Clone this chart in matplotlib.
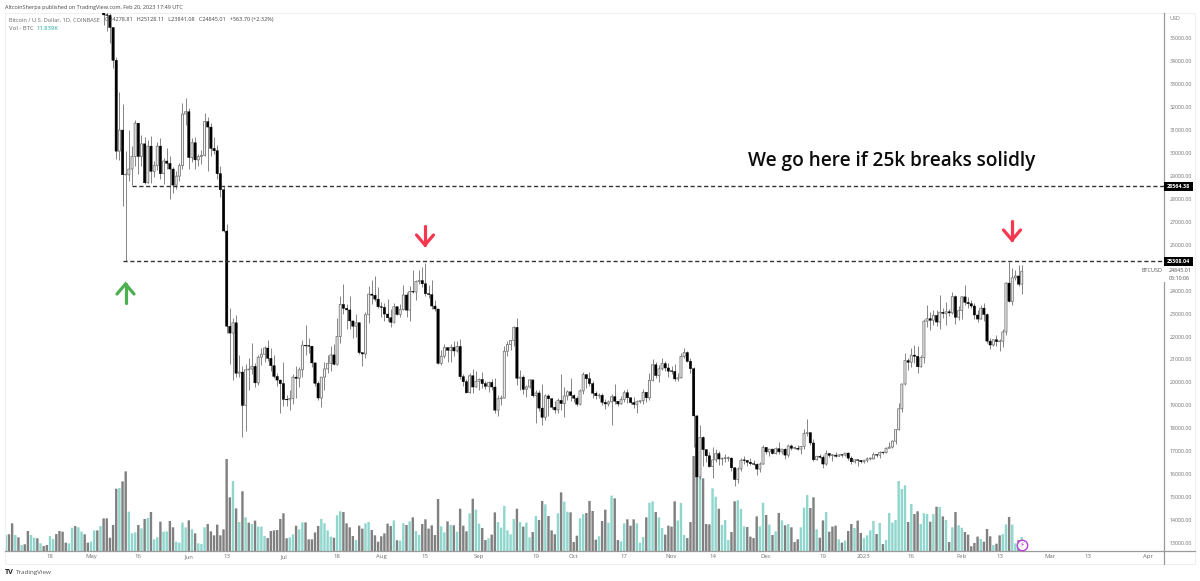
import matplotlib
matplotlib.use('Agg')
import matplotlib.pyplot as plt
import matplotlib.dates as mdates
from matplotlib.lines import Line2D
from matplotlib.patches import Rectangle
import pandas as pd

# daily candles, 2022-05-05 to 2023-02-20, one row per month
first_open = 36500
closes = [
    36020, 36000, 35470, 34040, 30080, 31000, 29050, 29050, 29300, 29850, 31300, 29850, 30400, 28700, 30300, 29200, 29450, 30300, 29100, 29650, 29550, 29300, 28600, 28990, 29450, 31700, 31800,
    29800, 30450, 29700, 29850, 29900, 31370, 31130, 30200, 30100, 29100, 28400, 26600, 22450, 22150, 22600, 20400, 20450, 19000, 20550, 20580, 20700, 19980, 21100, 21230, 21500, 21050, 20730, 20260, 20100, 19950,
    19260, 19240, 19300, 20230, 20180, 20550, 21620, 21590, 21580, 20850, 19960, 19320, 20230, 20590, 20830, 21200, 20790, 22000, 23400, 23230, 23160, 22680, 22450, 22600, 21300, 21240, 22950, 23850, 23800, 23630, 23300,
    23270, 22980, 22820, 22620, 23300, 22960, 23175, 23810, 23150, 23960, 23940, 24400, 24440, 24300, 23870, 23830, 23330, 23200, 20830, 21140, 21520, 21400, 21530, 21370, 21570, 20250, 20030, 19550, 20290, 19800, 20050,
    20130, 19950, 19830, 20000, 19800, 18790, 19290, 19320, 21360, 21650, 21830, 22400, 20180, 20230, 19700, 19800, 20110, 19420, 19540, 18880, 18480, 19410, 19290, 18920, 18800, 19220, 19080, 19410, 19590, 19430,
    19310, 19050, 19630, 20340, 20160, 19950, 19530, 19420, 19440, 19130, 19060, 19150, 19380, 19180, 19060, 19260, 19550, 19330, 19120, 19040, 19160, 19200, 19570, 19330, 20090, 20770, 20300, 20590, 20820, 20630, 20490,
    20480, 20150, 20200, 21130, 21300, 20920, 20600, 18540, 15880, 17600, 17070, 16800, 16330, 16620, 16900, 16660, 16690, 16690, 16700, 16280, 15770, 16230, 16610, 16600, 16520, 16460, 16430, 16220, 16440, 17170,
    16970, 17090, 16900, 17110, 16970, 17090, 16830, 17230, 17130, 17130, 17090, 17210, 17780, 17810, 17360, 16630, 16780, 16740, 16440, 16900, 16820, 16830, 16780, 16840, 16830, 16920, 16700, 16540, 16630, 16600, 16540,
    16610, 16670, 16670, 16850, 16830, 16950, 16940, 17130, 17180, 17440, 17940, 18850, 19930, 20950, 20880, 21190, 21140, 20680, 21080, 22670, 22780, 22710, 22920, 22630, 23060, 23010, 23080, 23030, 23740, 22840, 23130,
    23730, 23490, 23430, 23330, 22940, 22760, 23240, 22960, 21800, 21630, 21860, 21780, 21790, 22200, 24330, 23530, 24560, 24640, 24280, 24845,
]
highs = [
    37600, 36600, 36100, 35500, 34200, 32650, 32150, 30100, 31000, 30300, 31450, 31300, 30800, 30700, 30550, 30750, 29650, 30480, 30650, 29800, 30200, 29850, 29400, 29200, 29550, 32200, 32400,
    31950, 30650, 30680, 29950, 30150, 31750, 31550, 31300, 30700, 30350, 29450, 28550, 26900, 23250, 22800, 22950, 21200, 20700, 20800, 21050, 21700, 20850, 21200, 21500, 21600, 21850, 21500, 21200, 20400, 20150,
    20900, 19450, 19650, 20350, 20700, 20650, 21830, 22500, 21950, 21600, 20880, 20050, 20250, 20880, 21200, 21600, 21680, 22800, 23780, 24280, 23400, 23750, 22680, 22990, 22650, 21300, 23050, 24200, 24450, 24650, 24150,
    23500, 23450, 23640, 23200, 23450, 23350, 23400, 24250, 23920, 24220, 24900, 24450, 24890, 25050, 25200, 24250, 24450, 23600, 23200, 21400, 21680, 21520, 21680, 21800, 21800, 21880, 20350, 20150, 20400, 20580, 20480,
    20200, 20440, 20050, 20050, 20150, 20180, 19450, 19470, 21600, 21800, 21850, 22480, 22800, 20550, 20330, 19900, 20170, 20120, 19690, 19650, 19950, 19500, 19500, 19300, 19180, 19300, 20380, 19780, 19650, 20180,
    19480, 19390, 19720, 20470, 20360, 20450, 20050, 19620, 19560, 19530, 19260, 19220, 19500, 19950, 19210, 19410, 19680, 19700, 19350, 19350, 19250, 19250, 19700, 19600, 20400, 21000, 20870, 20740, 21080, 20930, 20840,
    20700, 20800, 20390, 21300, 21480, 21360, 21050, 20670, 18600, 18150, 17650, 17100, 16950, 17200, 17100, 17000, 16750, 16880, 16800, 16750, 16300, 16300, 16700, 16790, 16600, 16690, 16600, 16480, 16520, 17250,
    17100, 17100, 17150, 17200, 17420, 17110, 17140, 17300, 17300, 17220, 17270, 17240, 17950, 18390, 17850, 17530, 16800, 16870, 16830, 17060, 16920, 16860, 16950, 16860, 16860, 16930, 16960, 16780, 16650, 16620, 16630,
    16630, 16760, 16770, 16980, 16880, 16990, 16960, 17170, 17390, 17490, 17990, 19100, 19950, 21280, 21050, 21480, 21650, 21570, 21200, 22750, 23370, 23070, 23160, 23150, 23800, 23250, 23490, 23180, 23950, 23790, 23310,
    23780, 24250, 23710, 23590, 23440, 23160, 23370, 23450, 23010, 21940, 21900, 22060, 21880, 22320, 24360, 25250, 25000, 24880, 25130, 25128,
]
lows = [
    35600, 35300, 34800, 33700, 29750, 29700, 27700, 25308, 28800, 28600, 29450, 29100, 29450, 28650, 28700, 28700, 28950, 29250, 28850, 28650, 29300, 28000, 28250, 28450, 28800, 29300, 31200,
    29300, 29600, 29300, 29450, 29500, 29850, 29200, 29850, 29950, 28850, 28100, 26550, 22150, 20800, 20100, 20250, 20250, 17620, 17900, 19650, 20350, 19800, 19900, 20750, 20900, 20950, 20500, 20180, 19850, 18650,
    18970, 18950, 18800, 19050, 19300, 19800, 20250, 21200, 21300, 20650, 19850, 19250, 18920, 19650, 20400, 20480, 20770, 20770, 21700, 23000, 22350, 22350, 21950, 22000, 21250, 20720, 21050, 22600, 23400, 23550, 23250,
    22850, 22660, 22680, 22430, 22590, 22920, 22850, 23150, 22870, 22660, 23900, 23600, 24300, 24150, 23780, 23680, 23180, 23100, 20800, 20770, 21060, 20900, 20900, 21150, 21320, 20130, 19850, 19520, 19550, 19550, 19800,
    19650, 19750, 19700, 19600, 19650, 18650, 18550, 19030, 19300, 21150, 21400, 21600, 19900, 19650, 19500, 19350, 19750, 19350, 18250, 18750, 18150, 18350, 18550, 18830, 18650, 18680, 18800, 18500, 19250, 19200,
    19160, 18950, 19000, 19500, 19750, 19860, 19330, 19270, 19330, 19020, 18860, 18970, 18150, 19070, 18980, 19060, 19150, 19100, 19050, 18900, 18650, 19110, 19080, 19150, 19250, 20050, 20200, 20000, 20550, 20500, 20250,
    20350, 20050, 20050, 20180, 21080, 20900, 20400, 17200, 15600, 15800, 16350, 16550, 16300, 15820, 16530, 16400, 16400, 16530, 16560, 16150, 15480, 15620, 16160, 16450, 16350, 16400, 16400, 15980, 16100, 16430,
    16880, 16800, 16860, 16890, 16880, 16900, 16680, 16730, 17070, 17090, 17060, 16870, 17080, 17660, 17280, 16570, 16600, 16700, 16270, 16400, 16750, 16580, 16750, 16790, 16740, 16790, 16610, 16460, 16500, 16340, 16480,
    16490, 16550, 16600, 16660, 16770, 16720, 16900, 16910, 17120, 17150, 17320, 17930, 18700, 19890, 20550, 20650, 20850, 20400, 20650, 20850, 22420, 22300, 22520, 22470, 22310, 22820, 22520, 22880, 23000, 22550, 22720,
    22770, 23370, 23230, 23260, 22770, 22630, 22750, 22680, 21700, 21470, 21600, 21600, 21350, 21540, 22050, 23500, 23360, 24450, 24200, 23841,
]

# volume in thousands of BTC, 2022-04-04 to 2023-02-20; U = rising day, D = falling day
volumes = [
    13.6, 14.2, 23.5, 13.6, 11.6, 5.1, 5.7, 17.0, 13.6, 11.3, 10.8, 6.5, 4.2, 5.1, 12.7, 10.2, 14.4, 17.0, 16.4, 7.1, 6.5, 19.8, 21.2, 20.1, 16.4,
    14.2, 7.1, 7.9, 17.5, 17.5, 21.2, 27.7, 27.7, 11.3, 22.1, 52.9, 53.5, 59.1, 67.6, 33.4, 15.0, 15.8, 22.1, 19.2, 27.2, 28.0, 33.1, 9.9, 11.6, 24.9,
    16.4, 16.7, 25.5, 20.1, 7.9, 7.1, 24.1, 20.1, 26.0, 18.4, 15.0, 6.5, 5.9, 20.1, 22.9, 16.7, 13.3, 22.4, 13.3, 18.4, 78.1, 45.6, 59.4, 36.2, 24.6,
    50.7, 28.6, 24.1, 22.9, 25.8, 20.7, 20.7, 12.7, 11.0, 17.0, 17.5, 17.8, 27.2, 32.0, 10.8, 11.6, 14.2, 21.5, 18.4, 24.3, 24.3, 9.9, 9.9, 15.8, 21.2,
    27.2, 23.5, 17.5, 12.2, 11.3, 30.3, 33.7, 33.1, 23.5, 20.1, 12.7, 9.3, 21.5, 19.0, 23.5, 24.6, 17.8, 13.3, 7.9, 12.5, 15.0, 23.2, 21.2, 26.0, 9.1,
    8.8, 23.5, 22.1, 25.2, 28.6, 17.0, 13.6, 22.9, 26.9, 19.0, 21.8, 13.6, 44.1, 20.9, 15.8, 25.2, 22.1, 21.8, 16.4, 35.9, 21.5, 16.7, 32.0, 44.4, 35.1,
    23.2, 19.5, 9.3, 10.8, 13.9, 32.8, 24.6, 19.8, 38.2, 17.5, 14.2, 27.2, 35.9, 24.6, 20.7, 24.1, 11.6, 16.1, 29.7, 26.3, 42.5, 39.6, 29.7, 17.5, 14.2,
    32.0, 49.8, 41.9, 33.4, 32.8, 7.6, 13.0, 27.7, 31.4, 32.3, 42.5, 34.0, 9.6, 12.5, 25.5, 35.1, 24.1, 47.0, 44.7, 9.3, 8.2, 23.5, 26.9, 21.5, 26.9,
    23.5, 7.1, 11.9, 28.6, 41.0, 42.2, 33.1, 28.6, 19.5, 13.9, 21.5, 20.7, 42.2, 26.0, 40.8, 13.6, 11.0, 24.6, 80.7, 91.4, 63.1, 61.7, 22.9, 22.6, 53.2,
    46.1, 35.9, 22.1, 26.3, 9.3, 16.1, 42.2, 43.0, 35.7, 20.9, 20.4, 12.2, 11.0, 29.4, 20.9, 41.0, 30.6, 22.4, 13.6, 16.7, 32.3, 26.0, 21.8, 22.9, 20.1,
    7.6, 9.9, 20.1, 36.8, 47.5, 36.5, 45.6, 18.4, 11.3, 26.0, 33.1, 16.4, 20.7, 21.5, 9.9, 7.1, 8.8, 17.0, 22.9, 19.5, 25.8, 15.3, 10.8, 13.3, 17.5,
    25.5, 14.4, 23.8, 5.9, 9.3, 32.3, 24.1, 26.3, 59.4, 52.6, 55.8, 24.6, 39.9, 31.4, 33.7, 22.9, 32.0, 31.4, 24.9, 31.4, 37.6, 37.4, 29.4, 26.3, 7.6,
    20.1, 33.1, 21.8, 19.8, 16.1, 13.9, 4.0, 6.8, 12.2, 10.2, 7.9, 18.7, 12.5, 5.1, 6.2, 13.3, 14.4, 22.6, 28.9, 22.4, 6.5, 9.3, 11.8,
]
vol_dirs = (
    "UDDUDUDDUUDUDDUUDDDDUUDUU"
    "DDUUDUDDDDDUDDUUUDUDUDUUD"
    "UUDDUUUUDUDUUUDDDDDDDDUDU"
    "DUDUDUUUDDDDDDDUUDUUDDDDD"
    "UUUUDUUDDDDUDDUUDDDDDDDUD"
    "UUDUDUUDDDDDDUUDUDUDDDUDU"
    "UDDUDDUUUUUUDUDUUDUDDUDDD"
    "UDUUDDDUUDDDDUDDUUDDUUDDD"
    "UUUDUUDUUDDDDUUUDDDDUDDDU"
    "UDUUUDDUUUDDDDUUDUDUDUDUD"
    "DDUUUDDUDDUDDDUDUDDUDDUUU"
    "UDUDUUUUUUUDUDDUUUDUDUDUD"
    "UDUUDDDDDUDDDUDDUUDUUDU"
)

level_upper = 28564.38
level_lower = 25308.04
last_price = 24845.01

price_ticks = [p for p in range(13000, 36000, 1000) if p != 25000]
time_ticks = ['2022-04-18', '2022-05-01', '2022-05-16', '2022-06-01', '2022-06-13', '2022-07-01',
              '2022-07-18', '2022-08-01', '2022-08-15', '2022-09-01', '2022-09-19', '2022-10-01',
              '2022-10-17', '2022-11-01', '2022-11-14', '2022-12-01', '2022-12-19', '2023-01-01',
              '2023-01-16', '2023-02-01', '2023-02-13', '2023-03-01', '2023-03-13', '2023-04-01']
time_labels = ['18', 'May', '16', 'Jun', '13', 'Jul', '18', 'Aug', '15', 'Sep', '19', 'Oct',
               '17', 'Nov', '14', 'Dec', '19', '2023', '16', 'Feb', '13', 'Mar', '13', 'Apr']

W, H = 1200, 581
TEAL = '#8fd6cd'
GREY = '#808080'
FONT = ['Open Sans', 'DejaVu Sans']


def px_text(x, y, s, **kw):
    return fig.text(x / W, 1 - y / H, s, family=FONT, va='center', **kw)


def px_arrow(x, y_tip, y_tail, color, up):
    # arrow marks drawn on the figure, the way they sit on top of the chart
    head = 10 if up else -10
    lines = [([x, x], [y_tip, y_tail]), ([x - 8.5, x, x + 8.5], [y_tip + head, y_tip, y_tip + head])]
    for lx, ly in lines:
        fig.add_artist(Line2D([v / W for v in lx], [1 - v / H for v in ly], color=color,
                              lw=2.3, solid_capstyle='round', solid_joinstyle='miter',
                              transform=fig.transFigure))


fig = plt.figure(figsize=(W / 100, H / 100), dpi=100, facecolor='white')

ax_vol = fig.add_axes([5 / W, (H - 551) / H, 1159 / W, 538 / H])
ax = fig.add_axes([5 / W, (H - 551) / H, 1159 / W, 538 / H], sharex=ax_vol)
ax.set_zorder(ax_vol.get_zorder() + 1)
ax.patch.set_visible(False)

candle_dates = pd.date_range(end='2023-02-20', periods=len(closes))
vol_dates = pd.date_range(end='2023-02-20', periods=len(volumes))

# volume
vol_colors = [TEAL if d == 'U' else GREY for d in vol_dirs]
ax_vol.bar(vol_dates, volumes, width=0.76, color=vol_colors, linewidth=0, snap=False)
ax_vol.set_ylim(0, 538 * 0.849)
ax_vol.axis('off')

# candles
opens = [first_open] + closes[:-1]
ax.vlines(candle_dates, lows, highs, color='#7c7c7c', lw=0.65, zorder=2)
for d, o, c in zip(candle_dates, opens, closes):
    bottom, height = min(o, c), max(abs(c - o), 25)
    if c >= o:
        ax.bar(d, height, bottom=bottom, width=0.66, facecolor='#f2f2f2', edgecolor='#777777', linewidth=0.6, zorder=3, snap=False)
    else:
        ax.bar(d, height, bottom=bottom, width=0.76, facecolor='black', edgecolor='black', linewidth=0.3, zorder=3, snap=False)

ax.set_ylim(12651, 36103)
x0 = mdates.date2num(pd.Timestamp('2022-05-01'))
ax.set_xlim(x0 + (5 - 91) / 3.155, x0 + (1164 - 91) / 3.155)

# levels
right_x = ax.get_xlim()[1]
dash = (0, (3.0, 1.9))
ax.hlines(level_upper, mdates.date2num(pd.Timestamp('2022-05-14')), right_x, color='#333333', lw=1.0, linestyles=dash, zorder=4)
ax.hlines(level_lower, mdates.date2num(pd.Timestamp('2022-05-11')), right_x, color='#333333', lw=1.0, linestyles=dash, zorder=4)

ax.set_xticks(pd.to_datetime(time_ticks))
ax.set_xticklabels(time_labels)
ax.yaxis.tick_right()
ax.set_yticks(price_ticks)
ax.set_yticklabels(['%.2f' % p for p in price_ticks])
ax.tick_params(axis='x', length=0, labelsize=4.3, labelcolor='#707070', pad=2.5)
ax.tick_params(axis='y', length=0, labelsize=3.8, labelcolor='#707070', pad=3.8)
for label in ax.get_xticklabels() + ax.get_yticklabels():
    label.set_fontfamily(FONT)
for side in ['top', 'left']:
    ax.spines[side].set_visible(False)
ax.spines['right'].set_color('#9b9b9b')
ax.spines['bottom'].set_color('#9b9b9b')
ax.spines['right'].set_linewidth(0.9)
ax.spines['bottom'].set_linewidth(0.9)

# outer frame and axis extensions
fig.add_artist(Rectangle((5 / W, (H - 564) / H), 1190 / W, 551 / H, transform=fig.transFigure,
                         fill=False, edgecolor='#eef0f6', lw=0.8))
fig.add_artist(Line2D([1164 / W, 1164 / W], [(H - 551) / H, (H - 564) / H], color='#9b9b9b', lw=0.9))
fig.add_artist(Line2D([1164 / W, 1195 / W], [(H - 551) / H, (H - 551) / H], color='#9b9b9b', lw=0.9))

# price tags on the right
for level, y in [(level_upper, 186), (level_lower, 261)]:
    fig.add_artist(Rectangle((1164 / W, (H - y - 4.5) / H), 29 / W, 9 / H, transform=fig.transFigure, facecolor='black', edgecolor='none', zorder=2))
    px_text(1178.5, y + 0.3, '%.2f' % level, color='white', fontsize=3.9, fontweight='bold', ha='center')
fig.add_artist(Rectangle((1163 / W, (H - 282) / H), 30 / W, 16 / H, transform=fig.transFigure, facecolor='white', edgecolor='none', zorder=2))
px_text(1169, 271, '%.2f' % last_price, color='#555555', fontsize=3.9)
px_text(1169, 278, '06:10:06', color='#555555', fontsize=3.9)
px_text(1142, 271, 'BTCUSD', color='#555555', fontsize=4.0)
px_text(1169, 19, 'USD', color='#707070', fontsize=3.9)

# header text
px_text(5, 7, 'AltcoinSherpa published on TradingView.com, Feb 20, 2023 17:49 UTC', color='#444444', fontsize=4.0)
px_text(9, 20, 'Bitcoin / U.S. Dollar, 1D, COINBASE', color='#666666', fontsize=4.1)
px_text(105, 20, 'O24278.81   H25128.11   L23841.08   C24845.01   +563.70 (+2.32%)', color='#444444', fontsize=4.0)
px_text(9, 29, 'Vol - BTC', color='#666666', fontsize=4.3)
px_text(36, 29, '11.839K', color='#26a69a', fontsize=4.2)

# annotation and arrows
px_text(748, 161, 'We go here if 25k breaks solidly', color='#0c0c0c', fontsize=13.7, fontweight='semibold')
px_arrow(125.5, 284, 303, '#4caf50', True)
px_arrow(425, 245, 226, '#f7374f', False)
px_arrow(1012, 240, 221, '#f7374f', False)

# lightning mark on the last bar
ax.plot([mdates.date2num(pd.Timestamp('2023-02-20'))], [12913], marker='o', ms=7.5, mfc='white', mec='#ba3fd8', mew=1.0, zorder=6, clip_on=False)
ax.text(mdates.date2num(pd.Timestamp('2023-02-20')), 12913, '\u26a1', color='#ba3fd8', fontsize=5, ha='center', va='center', zorder=7, family='DejaVu Sans')

# logo and name at the bottom
px_text(5, 572.5, 'TV', color='#222222', fontsize=5.2, fontweight='bold')
px_text(16, 572.5, 'TradingView', color='#555555', fontsize=4.5)

fig.savefig('out.png', dpi=100)
